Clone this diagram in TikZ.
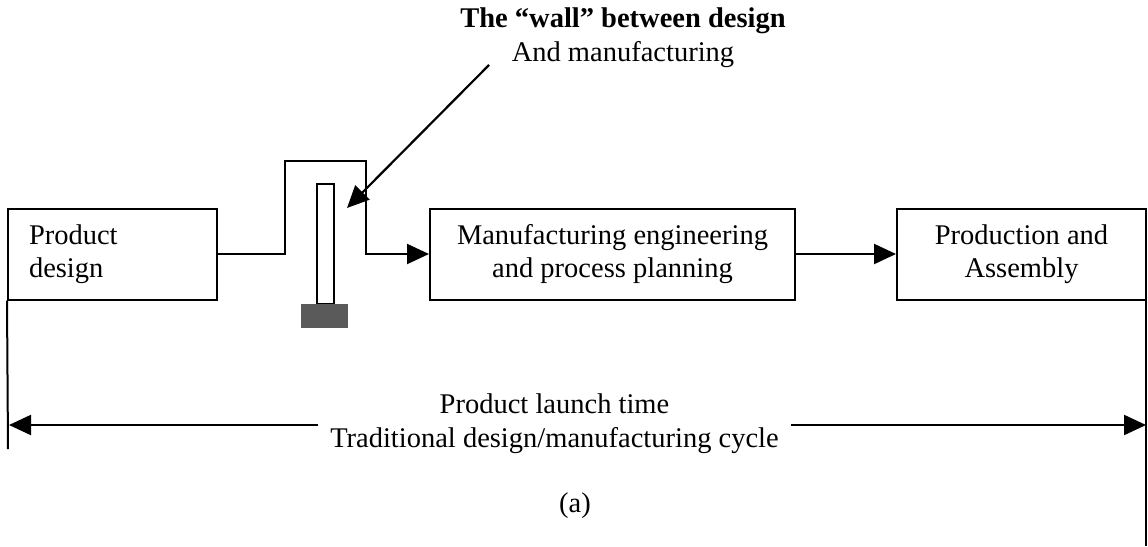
\documentclass[tikz,border=0pt]{standalone}
\usepackage{fontspec}
\setmainfont{Liberation Serif}
\usetikzlibrary{arrows.meta}
\definecolor{basegray}{HTML}{5A5A5A}
\tikzset{
  px/.style={x=1pt,y=-1pt},
  boxnode/.style={draw,line width=2pt,minimum height=91pt,inner sep=0pt,
    font=\fontsize{28.5}{33}\selectfont},
  lbl/.style={font=\fontsize{28.5}{34}\selectfont,inner sep=0pt},
  conn/.style={line width=2.2pt,-{Triangle[length=22pt,width=20pt]}},
  plain/.style={line width=2pt}
}
\begin{document}
\begin{tikzpicture}[px]
\useasboundingbox (0,0) rectangle (1148,546);
% boxes
\node[boxnode,text width=167pt,inner xsep=21pt,align=left] (pd) at (112.5,254) {Product\\design};
\node[boxnode,minimum width=365pt,align=center] (mfg) at (612.5,254) {Manufacturing engineering\\and process planning};
\node[boxnode,minimum width=249pt,align=center] (prod) at (1021.5,254) {Production and\\Assembly};
% the wall
\node[draw,line width=2pt,fill=white,minimum width=17pt,minimum height=120pt,inner sep=0pt] (wall) at (325.5,244) {};
\node[fill=basegray,minimum width=47pt,minimum height=24pt,inner sep=0pt] (wallbase) at (324.5,316) {};
% connector over the wall
\coordinate (up1) at (285,161);
\coordinate (up2) at (366,161);
\draw[conn] (pd.east) -| (up1) -| (up2 |- mfg.west) -- (mfg.west);
\draw[conn] (mfg.east) -- (prod.west);
% label of the wall
\node[lbl,align=center] (walltxt) at (623,38) {\textbf{The “wall” between design}\\And manufacturing};
\coordinate (ptrstart) at (489,65);
\coordinate (ptrtip) at (347,208);
\draw[conn] (ptrstart) -- (ptrtip);
% launch time
\coordinate (lend) at (8,449);
\coordinate (rend) at (1146,546);
\draw[plain] (pd.south west) -- (lend);
\draw[plain] (prod.south east -| rend) -- (rend);
\coordinate (la) at (9,425);
\coordinate (ra) at (1146,425);
\draw[line width=2.2pt,{Triangle[length=22pt,width=20pt]}-{Triangle[length=22pt,width=20pt]}] (la) -- (ra);
\node[lbl,align=center,fill=white,inner xsep=12pt,inner ysep=2pt] (launch) at (554.5,424) {Product launch time\\Traditional design/manufacturing cycle};
\node[lbl] (cap) at (575,506) {(a)};
\end{tikzpicture}
\end{document}
